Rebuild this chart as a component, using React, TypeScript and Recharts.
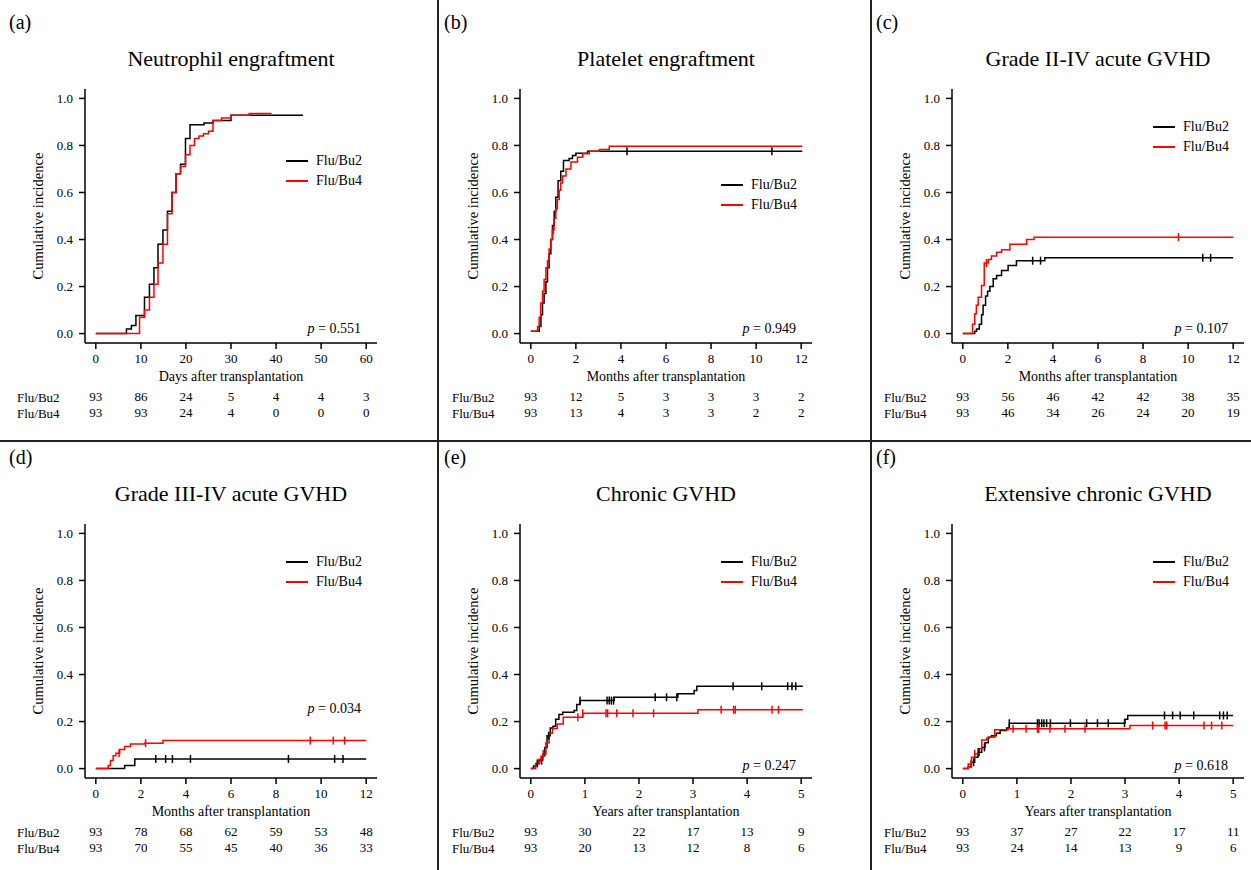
import React from 'react';
import { ComposedChart, Line, Scatter, XAxis, YAxis } from 'recharts';

type Pt = [number, number];

const SERIF = '"Liberation Serif", "Times New Roman", serif';
const BLACK = '#000000';
const RED = '#ff0000';

const dayTicks = [0, 10, 20, 30, 40, 50, 60];
const monthTicks = [0, 2, 4, 6, 8, 10, 12];
const yearTicks = [0, 1, 2, 3, 4, 5];
const yTicks = [0, 0.2, 0.4, 0.6, 0.8, 1.0];

// (a) neutrophil engraftment, days
const neutBu2: Pt[] = [[0, 0], [6.8, 0.02], [7.9, 0.034], [8.9, 0.077], [10.8, 0.155], [11.9, 0.21], [12.9, 0.28], [13.8, 0.38], [14.9, 0.44], [15.9, 0.52], [16.9, 0.6], [17.8, 0.68], [18.8, 0.72], [19.9, 0.83], [20.9, 0.888], [24, 0.895], [26, 0.906], [30, 0.928], [46, 0.928]];
const neutBu4: Pt[] = [[0, 0], [9.7, 0.07], [10.8, 0.1], [11.9, 0.155], [12.9, 0.21], [13.8, 0.3], [14.9, 0.38], [15.9, 0.51], [16.9, 0.6], [17.8, 0.68], [18.8, 0.71], [19.9, 0.76], [20.9, 0.8], [21.9, 0.83], [22.9, 0.84], [23.9, 0.85], [25, 0.86], [26, 0.906], [27.9, 0.917], [30, 0.928], [34, 0.936], [39, 0.936]];
const neutCensBu2: number[] = [];
const neutCensBu4: number[] = [];
const neutRiskBu2 = [93, 86, 24, 5, 4, 4, 3];
const neutRiskBu4 = [93, 93, 24, 4, 0, 0, 0];

// (b) platelet engraftment, months
const platBu2: Pt[] = [[0, 0.01], [0.37, 0.03], [0.45, 0.08], [0.52, 0.13], [0.59, 0.17], [0.67, 0.22], [0.74, 0.28], [0.81, 0.34], [0.89, 0.4], [0.96, 0.46], [1.04, 0.52], [1.11, 0.58], [1.21, 0.65], [1.33, 0.69], [1.45, 0.736], [1.7, 0.745], [1.85, 0.757], [2.0, 0.767], [2.52, 0.775], [12.05, 0.775]];
const platBu4: Pt[] = [[0, 0.01], [0.3, 0.03], [0.37, 0.07], [0.44, 0.13], [0.52, 0.18], [0.59, 0.23], [0.67, 0.28], [0.74, 0.31], [0.81, 0.36], [0.89, 0.4], [0.96, 0.44], [1.03, 0.49], [1.11, 0.53], [1.18, 0.57], [1.26, 0.61], [1.33, 0.64], [1.41, 0.67], [1.56, 0.7], [1.78, 0.73], [2.07, 0.75], [2.3, 0.765], [2.6, 0.775], [3.04, 0.783], [3.48, 0.797], [12.05, 0.797]];
const platCensBu2 = [4.27, 10.7];
const platCensBu4 = [1.0];
const platRiskBu2 = [93, 12, 5, 3, 3, 3, 2];
const platRiskBu4 = [93, 13, 4, 3, 3, 2, 2];

// (c) grade II-IV acute GVHD, months
const agvhBu2: Pt[] = [[0, 0], [0.53, 0.01], [0.61, 0.02], [0.73, 0.04], [0.83, 0.08], [0.9, 0.12], [1.01, 0.16], [1.1, 0.18], [1.2, 0.2], [1.35, 0.233], [1.5, 0.247], [1.72, 0.268], [2.01, 0.29], [2.38, 0.31], [3.64, 0.322], [12.0, 0.322]];
const agvhBu4: Pt[] = [[0, 0], [0.43, 0.04], [0.53, 0.084], [0.6, 0.12], [0.68, 0.155], [0.83, 0.204], [0.95, 0.3], [1.13, 0.315], [1.27, 0.33], [1.5, 0.346], [1.72, 0.357], [2.09, 0.38], [2.83, 0.4], [3.16, 0.41], [12.0, 0.41]];
const agvhCensBu2 = [3.1, 3.45, 10.65, 11.0];
const agvhCensBu4 = [1.05, 9.57];
const agvhRiskBu2 = [93, 56, 46, 42, 42, 38, 35];
const agvhRiskBu4 = [93, 46, 34, 26, 24, 20, 19];

// (d) grade III-IV acute GVHD, months
const sgvhBu2: Pt[] = [[0, 0], [1.28, 0.013], [1.73, 0.041], [12.0, 0.041]];
const sgvhBu4: Pt[] = [[0, 0], [0.55, 0.013], [0.65, 0.034], [0.77, 0.055], [0.89, 0.065], [1.06, 0.081], [1.28, 0.094], [1.54, 0.105], [2.17, 0.108], [2.98, 0.119], [12.0, 0.119]];
const sgvhCensBu2 = [2.66, 3.1, 3.4, 4.2, 8.55, 10.6, 10.97];
const sgvhCensBu4 = [1.03, 2.21, 9.52, 10.54, 11.04];
const sgvhRiskBu2 = [93, 78, 68, 62, 59, 53, 48];
const sgvhRiskBu4 = [93, 70, 55, 45, 40, 36, 33];

// (e) chronic GVHD, years
const cgvhBu2: Pt[] = [[0, 0], [0.05, 0.011], [0.09, 0.022], [0.15, 0.034], [0.22, 0.055], [0.26, 0.09], [0.3, 0.14], [0.36, 0.173], [0.41, 0.18], [0.46, 0.21], [0.52, 0.23], [0.59, 0.24], [0.8, 0.247], [0.85, 0.272], [0.91, 0.289], [1.54, 0.303], [2.72, 0.318], [3.02, 0.332], [3.07, 0.35], [5.03, 0.35]];
const cgvhBu4: Pt[] = [[0, 0], [0.09, 0.02], [0.15, 0.04], [0.22, 0.063], [0.28, 0.11], [0.34, 0.15], [0.4, 0.17], [0.49, 0.19], [0.6, 0.218], [0.96, 0.235], [3.09, 0.25], [5.03, 0.25]];
const cgvhCensBu2 = [0.12, 0.2, 0.33, 0.91, 1.41, 1.45, 1.49, 1.53, 2.3, 2.51, 2.7, 3.74, 4.27, 4.75, 4.83, 4.9];
const cgvhCensBu4 = [0.19, 0.23, 0.87, 0.96, 1.39, 1.42, 1.59, 1.89, 2.27, 3.52, 3.75, 3.78, 4.46, 4.58];
const cgvhRiskBu2 = [93, 30, 22, 17, 13, 9];
const cgvhRiskBu4 = [93, 20, 13, 12, 8, 6];

// (f) extensive chronic GVHD, years
const egvhBu2: Pt[] = [[0, 0], [0.1, 0.008], [0.16, 0.027], [0.22, 0.048], [0.28, 0.07], [0.35, 0.09], [0.41, 0.11], [0.47, 0.133], [0.53, 0.14], [0.62, 0.15], [0.69, 0.162], [0.81, 0.173], [0.86, 0.193], [3.0, 0.21], [3.05, 0.226], [5.0, 0.226]];
const egvhBu4: Pt[] = [[0, 0], [0.1, 0.02], [0.16, 0.048], [0.22, 0.063], [0.28, 0.084], [0.35, 0.122], [0.44, 0.129], [0.49, 0.133], [0.59, 0.165], [0.84, 0.169], [3.09, 0.183], [5.0, 0.183]];
const egvhCensBu2 = [0.2, 0.3, 0.4, 0.86, 1.38, 1.41, 1.46, 1.5, 1.55, 1.62, 1.99, 2.29, 2.49, 2.69, 2.99, 3.73, 3.88, 4.02, 4.27, 4.75, 4.82, 4.89];
const egvhCensBu4 = [0.15, 0.22, 0.93, 1.17, 1.38, 1.4, 1.61, 1.89, 2.26, 3.51, 3.74, 3.77, 4.46, 4.6, 4.79];
const egvhRiskBu2 = [93, 37, 27, 22, 17, 11];
const egvhRiskBu4 = [93, 24, 14, 13, 9, 6];

const groups = ['Flu/Bu2', 'Flu/Bu4'];

const panels = [
  { tag: '(a)', title: 'Neutrophil engraftment', xLabel: 'Days after transplantation', ticks: dayTicks, bu2: neutBu2, bu4: neutBu4, c2: neutCensBu2, c4: neutCensBu4, r2: neutRiskBu2, r4: neutRiskBu4, p: '0.551', legY: 161, pTop: 322 },
  { tag: '(b)', title: 'Platelet engraftment', xLabel: 'Months after transplantation', ticks: monthTicks, bu2: platBu2, bu4: platBu4, c2: platCensBu2, c4: platCensBu4, r2: platRiskBu2, r4: platRiskBu4, p: '0.949', legY: 185, pTop: 322 },
  { tag: '(c)', title: 'Grade II-IV acute GVHD', xLabel: 'Months after transplantation', ticks: monthTicks, bu2: agvhBu2, bu4: agvhBu4, c2: agvhCensBu2, c4: agvhCensBu4, r2: agvhRiskBu2, r4: agvhRiskBu4, p: '0.107', legY: 127, pTop: 322 },
  { tag: '(d)', title: 'Grade III-IV acute GVHD', xLabel: 'Months after transplantation', ticks: monthTicks, bu2: sgvhBu2, bu4: sgvhBu4, c2: sgvhCensBu2, c4: sgvhCensBu4, r2: sgvhRiskBu2, r4: sgvhRiskBu4, p: '0.034', legY: 127, pTop: 267 },
  { tag: '(e)', title: 'Chronic GVHD', xLabel: 'Years after transplantation', ticks: yearTicks, bu2: cgvhBu2, bu4: cgvhBu4, c2: cgvhCensBu2, c4: cgvhCensBu4, r2: cgvhRiskBu2, r4: cgvhRiskBu4, p: '0.247', legY: 127, pTop: 324 },
  { tag: '(f)', title: 'Extensive chronic GVHD', xLabel: 'Years after transplantation', ticks: yearTicks, bu2: egvhBu2, bu4: egvhBu4, c2: egvhCensBu2, c4: egvhCensBu4, r2: egvhRiskBu2, r4: egvhRiskBu4, p: '0.618', legY: 127, pTop: 324 },
];

type PanelCfg = (typeof panels)[number];

const rows = (curve: Pt[]) => curve.map(([t, v]) => ({ t, v }));

// value of the step curve at time t
const stepAt = (curve: Pt[], t: number) => {
  let v = curve[0][1];
  for (const [tt, vv] of curve) if (tt <= t) v = vv;
  return v;
};

const censRows = (curve: Pt[], times: number[]) => times.map((t) => ({ t, v: stepAt(curve, t) }));

const censorMark = (color: string) => (props: any) => {
  const { cx, cy } = props;
  if (cx == null || cy == null) return <g />;
  return <line x1={cx} x2={cx} y1={cy - 4} y2={cy + 4} stroke={color} strokeWidth={1.5} />;
};
const noMark = () => <g />;

const tickFont = { fill: '#000', fontSize: 13, fontFamily: SERIF };
const axisStroke = { stroke: '#000', strokeWidth: 1.5 };

const Panel = ({ cfg, left, top }: { cfg: PanelCfg; left: number; top: number }) => {
  const max = cfg.ticks[cfg.ticks.length - 1];
  const pad = max * 0.04;
  const domain: [number, number] = [-pad, max + pad];
  // anchors so the at-risk axes have something to scale
  const anchors = cfg.ticks.map((t) => ({ t, v: 0 }));
  const text: React.CSSProperties = { position: 'absolute', fontFamily: SERIF, color: '#000', lineHeight: 1, whiteSpace: 'nowrap' };
  return (
    <div style={{ position: 'absolute', left, top, width: 433, height: 435 }}>
      <div style={{ ...text, left: 9, top: 12, fontSize: 20 }}>{cfg.tag}</div>
      <div style={{ ...text, left: 85, width: 292, top: 48, fontSize: 22, textAlign: 'center' }}>{cfg.title}</div>
      <div style={{ ...text, left: -62, top: 209, width: 200, height: 14, fontSize: 14.5, textAlign: 'center', transform: 'rotate(-90deg)' }}>
        Cumulative incidence
      </div>
      {groups.map((g, i) => (
        <React.Fragment key={g}>
          <div style={{ position: 'absolute', left: 286, top: cfg.legY + i * 20 - 0.75, width: 22, height: 1.5, background: i === 0 ? BLACK : RED }} />
          <div style={{ ...text, left: 316, top: cfg.legY + i * 20 - 7, fontSize: 14 }}>{g}</div>
          <div style={{ ...text, left: 17, top: 391 + i * 16, fontSize: 13 }}>{g}</div>
        </React.Fragment>
      ))}
      <div style={{ ...text, left: 200, width: 161, top: cfg.pTop, fontSize: 14, textAlign: 'right' }}>
        <i>p</i> = {cfg.p}
      </div>
      <ComposedChart width={433} height={430} margin={{ top: 89, right: 56, bottom: 10, left: 40 }}>
        <XAxis
          type="number"
          dataKey="t"
          domain={domain}
          ticks={cfg.ticks}
          interval={0}
          height={45}
          tickSize={6}
          tickMargin={5}
          axisLine={axisStroke}
          tickLine={axisStroke}
          tick={tickFont}
          label={{ value: cfg.xLabel, position: 'insideBottom', offset: 7, fill: '#000', fontSize: 14, fontFamily: SERIF }}
        />
        <XAxis
          xAxisId="r1"
          type="number"
          dataKey="t"
          domain={domain}
          ticks={cfg.ticks}
          interval={0}
          height={16}
          tickSize={0}
          tickMargin={4}
          axisLine={false}
          tickLine={false}
          tick={tickFont}
          tickFormatter={(v: number) => String(cfg.r2[cfg.ticks.indexOf(v)])}
        />
        <XAxis
          xAxisId="r2"
          type="number"
          dataKey="t"
          domain={domain}
          ticks={cfg.ticks}
          interval={0}
          height={16}
          tickSize={0}
          tickMargin={4}
          axisLine={false}
          tickLine={false}
          tick={tickFont}
          tickFormatter={(v: number) => String(cfg.r4[cfg.ticks.indexOf(v)])}
        />
        <YAxis
          type="number"
          dataKey="v"
          domain={[-0.04, 1.04]}
          ticks={yTicks}
          interval={0}
          width={45}
          tickSize={6}
          tickMargin={6}
          axisLine={axisStroke}
          tickLine={axisStroke}
          tick={tickFont}
          tickFormatter={(v: number) => v.toFixed(1)}
        />
        <Scatter xAxisId="r1" data={anchors} dataKey="v" shape={noMark} isAnimationActive={false} />
        <Scatter xAxisId="r2" data={anchors} dataKey="v" shape={noMark} isAnimationActive={false} />
        <Line data={rows(cfg.bu2)} dataKey="v" type="stepAfter" stroke={BLACK} strokeWidth={1.5} dot={false} isAnimationActive={false} />
        <Line data={rows(cfg.bu4)} dataKey="v" type="stepAfter" stroke={RED} strokeWidth={1.5} dot={false} isAnimationActive={false} />
        <Scatter data={censRows(cfg.bu2, cfg.c2)} dataKey="v" shape={censorMark(BLACK)} isAnimationActive={false} />
        <Scatter data={censRows(cfg.bu4, cfg.c4)} dataKey="v" shape={censorMark(RED)} isAnimationActive={false} />
      </ComposedChart>
    </div>
  );
};

const colX = [0, 435, 867];
const rowY = [0, 435];

export default function App() {
  return (
    <div style={{ position: 'absolute', left: 0, top: 0, width: 1251, height: 870, background: '#fff', overflow: 'hidden' }}>
      {panels.map((cfg, i) => (
        <Panel key={cfg.tag} cfg={cfg} left={colX[i % 3]} top={rowY[Math.floor(i / 3)]} />
      ))}
      <div style={{ position: 'absolute', left: 437, top: 0, width: 1.5, height: 870, background: '#222' }} />
      <div style={{ position: 'absolute', left: 870, top: 0, width: 1.5, height: 870, background: '#222' }} />
      <div style={{ position: 'absolute', left: 0, top: 440, width: 1251, height: 1.5, background: '#222' }} />
    </div>
  );
}
